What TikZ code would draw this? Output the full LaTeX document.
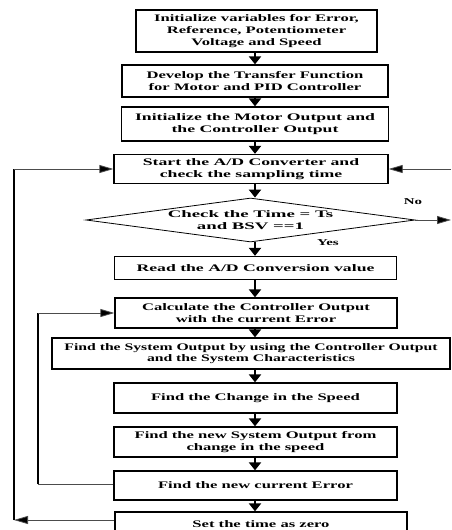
\documentclass[tikz,border=0pt]{standalone}
\usepackage{fontspec}
\setmainfont{Liberation Serif}
\newfontfamily\fbase{Liberation Serif}[FakeStretch=1.66]
\newfontfamily\fwide{Liberation Serif}[FakeStretch=1.88]
\newfontfamily\fmid{Liberation Serif}[FakeStretch=1.77]
\newfontfamily\fnarrow{Liberation Serif}[FakeStretch=1.57]
\usetikzlibrary{arrows.meta,shapes.geometric}
\begin{document}
\begin{tikzpicture}[x=1pt,y=-1pt,
  every node/.style={font=\fbase\bfseries\fontsize{10}{11.5}\selectfont, align=center, inner sep=0pt},
  wide/.style={font=\fwide\bfseries\fontsize{10}{11.5}\selectfont},
  mid/.style={font=\fmid\bfseries\fontsize{10}{11.5}\selectfont},
  narrow/.style={font=\fnarrow\bfseries\fontsize{10}{11}\selectfont},
  tall/.style={font=\fbase\bfseries\fontsize{10}{12}\selectfont},
  box/.style={draw, line width=1.3pt},
  dec/.style={draw, diamond, aspect=7.5, line width=0.8pt},
  down/.style={line width=2pt, -{Triangle[length=8pt,width=12pt]}},
  loopin/.style={line width=0.8pt, draw=black!70, -{Triangle[length=14pt,width=8pt,fill=black]}},
  lbl/.style={font=\fbase\bfseries\fontsize{9}{10}\selectfont}]
\useasboundingbox (0,0) rectangle (451,530);
\coordinate (ax) at (255,0);
\node[box, tall, minimum width=241pt, minimum height=42pt] (b1) at (256.5,31) {Initialize variables for Error,\\Reference, Potentiometer\\Voltage and Speed};
\node[box, minimum width=266pt, minimum height=32pt] (b2) at (255,81) {Develop the Transfer Function\\for Motor and PID Controller};
\node[box, mid, minimum width=267pt, minimum height=34pt] (b3) at (255,124) {Initialize the Motor Output and\\the Controller Output};
\node[box, mid, minimum width=274pt, minimum height=29pt] (b4) at (251,169) {Start the A/D Converter and\\check the sampling time};
\node[dec, wide, minimum width=329pt, minimum height=44pt] (d) at (250.5,220) {Check the Time = Ts\\and BSV ==1};
\node[box, mid, minimum width=282pt, minimum height=23pt] (b5) at (255.5,268) {Read the A/D Conversion value};
\node[box, minimum width=282pt, minimum height=30pt] (b6) at (256,313) {Calculate the Controller Output\\with the current Error};
\node[box, narrow, minimum width=398pt, minimum height=31pt] (b7) at (251,353.5) {Find the System Output by using the Controller Output\\and the System Characteristics};
\node[box, minimum width=283pt, minimum height=30pt] (b8) at (255.5,398) {Find the Change in the Speed};
\node[box, minimum width=283pt, minimum height=30pt] (b9) at (255.5,442) {Find the new System Output from\\change in the speed};
\node[box, minimum width=283pt, minimum height=29pt] (b10) at (255.5,485.5) {Find the new current Error};
\node[box, minimum width=292pt, minimum height=24pt] (b11) at (261,524) {Set the time as zero};
\node[lbl] (no) at (413,202) {No};
\node[lbl] (yes) at (328,243) {Yes};
\coordinate (rin) at (451,169);
\coordinate (rout) at (451,220);
\coordinate (l1) at (14,520);
\coordinate (l2) at (38,484);
% down arrows
\draw[down] (b1.south -| ax) -- (b2.north -| ax);
\draw[down] (b2.south -| ax) -- (b3.north -| ax);
\draw[down] (b3.south -| ax) -- (b4.north -| ax);
\draw[down] (b4.south -| ax) -- (d.north -| ax);
\draw[down] (d.south -| ax) -- (b5.north -| ax);
\draw[down] (b5.south -| ax) -- (b6.north -| ax);
\draw[down] (b6.south -| ax) -- (b7.north -| ax);
\draw[down] (b7.south -| ax) -- (b8.north -| ax);
\draw[down] (b8.south -| ax) -- (b9.north -| ax);
\draw[down] (b9.south -| ax) -- (b10.north -| ax);
\draw[down] (b10.south -| ax) -- (b11.north -| ax);
% right side
\draw[loopin] (rin) -- (b4.east);
\draw[loopin] (d.east) -- (rout);
% outer loop
\draw[loopin] (b11.west |- l1) -- (l1);
\draw[line width=1.6pt] (l1) -- (l1 |- b4.west);
\draw[loopin] (l1 |- b4.west) -- (b4.west);
% inner loop
\draw[line width=0.8pt, draw=black!70] (b10.west |- l2) -- (l2);
\draw[line width=1.4pt] (l2) -- (l2 |- b6.west);
\draw[loopin] (l2 |- b6.west) -- (b6.west);
\end{tikzpicture}
\end{document}
